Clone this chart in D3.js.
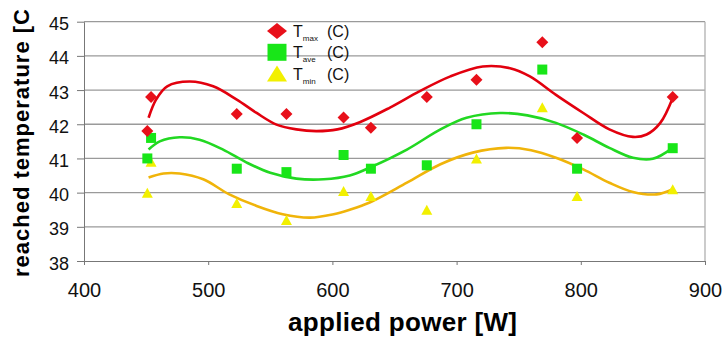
<!DOCTYPE html>
<html>
<head>
<meta charset="utf-8">
<script src="https://cdn.jsdelivr.net/npm/d3@7"></script>
<style>
  body { margin: 0; background: #fff; }
  svg { display: block; font-family: Arial, "Liberation Sans", sans-serif; }
</style>
</head>
<body>
<div id="vis"></div>
<script>
// measured points
var power = [451, 454, 523, 563, 609, 631, 676, 716, 769, 797, 874];
var tMax = [41.8, 42.8, 42.3, 42.3, 42.2, 41.9, 42.8, 43.3, 44.4, 41.6, 42.8];
var tAve = [41.0, 41.6, 40.7, 40.6, 41.1, 40.7, 40.8, 42.0, 43.6, 40.7, 41.3];
var tMin = [40.0, 40.9, 39.7, 39.2, 40.05, 39.9, 39.5, 41.0, 42.5, 39.9, 40.1];

// trend lines
var trendPower = [452, 458, 467, 485, 504, 523, 539, 555, 571, 587, 604, 622, 646, 670, 695, 721, 743, 759, 780, 802, 823, 842, 853, 864, 874];
var trendMax = [42.19, 42.72, 43.11, 43.25, 43.11, 42.72, 42.33, 41.99, 41.85, 41.80, 41.85, 42.06, 42.48, 42.96, 43.4, 43.69, 43.64, 43.4, 42.86, 42.33, 41.85, 41.63, 41.7, 42.04, 42.77];
var trendPowerB = [452, 461, 477, 493, 512, 531, 550, 571, 593, 614, 630, 660, 687, 708, 735, 757, 780, 802, 823, 842, 858, 874];
var trendAve = [41.26, 41.5, 41.62, 41.55, 41.26, 40.88, 40.58, 40.41, 40.39, 40.5, 40.73, 41.26, 41.85, 42.19, 42.33, 42.26, 42.04, 41.7, 41.31, 41.02, 40.99, 41.31];
var trendPowerC = [452, 464, 477, 496, 517, 539, 560, 582, 601, 614, 630, 660, 687, 713, 740, 760, 780, 802, 823, 842, 861, 874];
var trendMin = [40.44, 40.56, 40.56, 40.39, 39.95, 39.61, 39.37, 39.27, 39.37, 39.5, 39.71, 40.29, 40.83, 41.17, 41.31, 41.24, 41.02, 40.68, 40.29, 40.02, 39.95, 40.1];

var xTicks = [400, 500, 600, 700, 800, 900];
var yTicks = [38, 39, 40, 41, 42, 43, 44, 45];

var width = 727, height = 344;
var svg = d3.select("#vis").append("svg")
    .attr("width", width)
    .attr("height", height);

var x = d3.scaleLinear().domain([400, 900]).range([84, 705]);
var y = d3.scaleLinear().domain([38, 45]).range([261, 21.7]);

// grid
svg.append("g")
  .selectAll("line")
  .data(yTicks.slice(1))
  .enter().append("line")
    .attr("x1", x(400)).attr("x2", x(900))
    .attr("y1", function(d) { return y(d); })
    .attr("y2", function(d) { return y(d); })
    .attr("stroke", "#9a9a9a")
    .attr("stroke-width", 1.3);

svg.append("line")
    .attr("x1", x(900)).attr("x2", x(900))
    .attr("y1", y(45)).attr("y2", y(38))
    .attr("stroke", "#b0b0b0").attr("stroke-width", 1.3);

// axes
var yAxis = svg.append("g")
    .attr("transform", "translate(" + x(400) + ",0)")
    .call(d3.axisLeft(y).tickValues(yTicks).tickFormat(d3.format("d"))
      .tickSize(7).tickSizeOuter(0).tickPadding(8));
yAxis.select(".domain").attr("stroke", "#777");
yAxis.selectAll(".tick line").attr("stroke", "#777");
yAxis.selectAll("text")
    .attr("font-size", 18)
    .attr("font-family", "Arial, Liberation Sans, sans-serif")
    .attr("fill", "#111")
    .attr("dy", "0.45em");

var xAxis = svg.append("g")
    .attr("transform", "translate(0," + y(38) + ")")
    .call(d3.axisBottom(x).tickValues(xTicks).tickFormat(d3.format("d"))
      .tickSize(4).tickSizeOuter(0).tickPadding(18));
xAxis.select(".domain").attr("stroke", "#777");
xAxis.selectAll(".tick line").attr("stroke", "#777");
xAxis.selectAll("text")
    .attr("font-size", 20)
    .attr("font-family", "Arial, Liberation Sans, sans-serif")
    .attr("fill", "#111");

// titles
svg.append("text")
    .attr("x", 288)
    .attr("y", 331)
    .attr("font-size", 26)
    .attr("font-weight", "bold")
    .attr("textLength", 229)
    .attr("fill", "#000")
    .text("applied power [W]");

svg.append("text")
    .attr("transform", "translate(29,277) rotate(-90)")
    .attr("font-size", 22)
    .attr("font-weight", "bold")
    .attr("textLength", 268)
    .attr("fill", "#000")
    .text("reached temperature [C");

// trend lines
var trends = [
  {xs: trendPower, ys: trendMax, color: "#e2000e"},
  {xs: trendPowerB, ys: trendAve, color: "#22d822"},
  {xs: trendPowerC, ys: trendMin, color: "#f0b40a"}
];
var line = d3.line()
    .x(function(d) { return x(d[0]); })
    .y(function(d) { return y(d[1]); })
    .curve(d3.curveCatmullRom);

svg.append("g")
  .selectAll("path")
  .data(trends)
  .enter().append("path")
    .attr("d", function(t) { return line(d3.zip(t.xs, t.ys)); })
    .attr("fill", "none")
    .attr("stroke", function(t) { return t.color; })
    .attr("stroke-width", 2.6);

// marker shapes
function diamond(w, h) { return "M0," + (-h/2) + "L" + (w/2) + ",0L0," + (h/2) + "L" + (-w/2) + ",0Z"; }
function square(w, h) { return "M" + (-w/2) + "," + (-h/2) + "h" + w + "v" + h + "h" + (-w) + "Z"; }
function triangle(w, h) { return "M0," + (-h/2) + "L" + (w/2) + "," + (h/2) + "L" + (-w/2) + "," + (h/2) + "Z"; }

var series = [
  {vals: tMin, color: "#f2f000", shape: triangle(11, 10)},
  {vals: tAve, color: "#18e618", shape: square(10, 10)},
  {vals: tMax, color: "#e8101a", shape: diamond(12, 12)}
];

series.forEach(function(s) {
  svg.append("g")
    .selectAll("path")
    .data(power)
    .enter().append("path")
      .attr("transform", function(d, i) { return "translate(" + x(d) + "," + y(s.vals[i]) + ")"; })
      .attr("d", s.shape)
      .attr("fill", s.color);
});

// legend
var legendItems = [
  {sub: "max", color: "#e8101a", shape: diamond(20, 16)},
  {sub: "ave", color: "#18e618", shape: square(19, 17)},
  {sub: "min", color: "#f2f000", shape: triangle(20, 16)}
];

var legend = svg.append("g")
  .selectAll("g")
  .data(legendItems)
  .enter().append("g")
    .attr("transform", function(d, i) { return "translate(277," + (31 + i * 21.3) + ")"; });

legend.append("path")
    .attr("d", function(d) { return d.shape; })
    .attr("fill", function(d) { return d.color; });

var lt = legend.append("text")
    .attr("x", 16)
    .attr("y", 6)
    .attr("font-size", 16)
    .attr("fill", "#111");
lt.append("tspan").text("T");
lt.append("tspan")
    .attr("font-size", 8)
    .attr("dy", 4)
    .text(function(d) { return d.sub; });
lt.append("tspan")
    .attr("x", 50)
    .attr("dy", -4)
    .text("(C)");
</script>
</body>
</html>
